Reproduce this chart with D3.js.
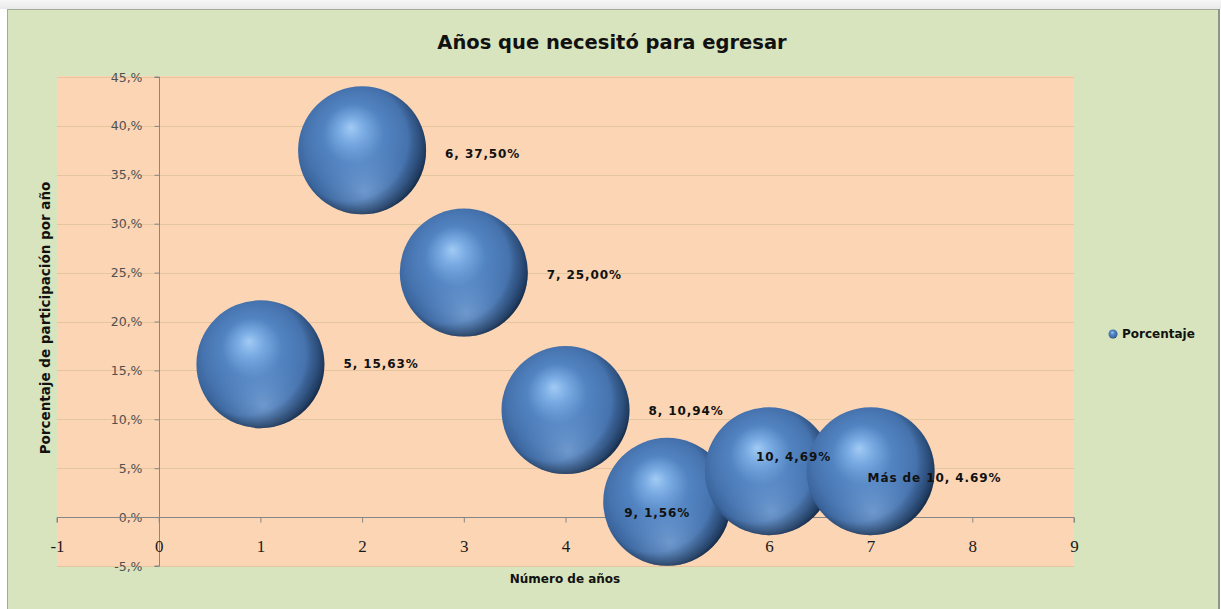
<!DOCTYPE html>
<html>
<head>
<meta charset="utf-8">
<script src="https://cdn.jsdelivr.net/npm/d3@7"></script>
<style>
html,body{margin:0;padding:0;background:#ffffff;}
svg{display:block;}
</style>
</head>
<body>
<svg id="chart" width="1221" height="609"></svg>
<script>
// ---- data ----
const categories = ["5", "6", "7", "8", "9", "10", "Más de 10"];
const xValues = [1, 2, 3, 4, 5, 6, 7];
const percentValues = [15.63, 37.50, 25.00, 10.94, 1.56, 4.69, 4.69];
const percentLabels = ["15,63%", "37,50%", "25,00%", "10,94%", "1,56%", "4,69%", "4.69%"];
const bubbleSizes = [1, 1, 1, 1, 1, 1, 1];
const xTicks = [-1, 0, 1, 2, 3, 4, 5, 6, 7, 8, 9];
const yTicks = [-5, 0, 5, 10, 15, 20, 25, 30, 35, 40, 45];
const yTickLabels = ["-5,%", "0,%", "5,%", "10,%", "15,%", "20,%", "25,%", "30,%", "35,%", "40,%", "45,%"];
const seriesName = "Porcentaje";
const titleText = "Años que necesitó para egresar";
const xTitle = "Número de años";
const yTitle = "Porcentaje de participación por año";

// ---- layout (styling only) ----
const labelShift = [[19, 0], [19, 3], [19, 2], [19, 1], [-107, 11], [-77, -14], [-67, 7]]; // px, relative to bubble right edge / centre
const plot = {left: 57, right: 1074, top: 77, bottom: 566};
const titleFont = "'Comic Sans MS','DejaVu Sans',sans-serif";

const svg = d3.select("#chart");
const defs = svg.append("defs");

// page + chart area
const bgGrad = defs.append("linearGradient").attr("id", "topShade").attr("x1", 0).attr("y1", 0).attr("x2", 0).attr("y2", 1);
bgGrad.append("stop").attr("offset", 0).attr("stop-color", "#f7f7f7");
bgGrad.append("stop").attr("offset", 1).attr("stop-color", "#e9e9e9");
svg.append("rect").attr("x", 0).attr("y", 0).attr("width", 1221).attr("height", 9).attr("fill", "url(#topShade)");
svg.append("rect").attr("x", 7.5).attr("y", 9.5).attr("width", 1211).attr("height", 610)
  .attr("fill", "#d8e4bd").attr("stroke", "#a3a99c").attr("stroke-width", 1);
svg.append("rect").attr("x", 1218).attr("y", 9).attr("width", 2).attr("height", 600).attr("fill", "#8d9689");

// scales
const x = d3.scaleLinear().domain([-1, 9]).range([plot.left, plot.right]);
const y = d3.scaleLinear().domain([-5, 45]).range([plot.bottom, plot.top]);
const r = d3.scaleSqrt().domain([0, d3.max(bubbleSizes)]).range([0, 64]);

// plot area
svg.append("rect").attr("x", plot.left).attr("y", plot.top - 1).attr("width", plot.right - plot.left)
  .attr("height", plot.bottom - plot.top + 1).attr("fill", "#fcd5b4");

// gridlines
svg.append("g").selectAll("line").data(yTicks).join("line")
  .attr("x1", plot.left).attr("x2", plot.right)
  .attr("y1", d => Math.round(y(d)) + 0.5).attr("y2", d => Math.round(y(d)) + 0.5)
  .attr("stroke", "#e3c69d").attr("stroke-width", 1);

// y axis at x = 0
const yAxis = d3.axisLeft(y).tickValues(yTicks).tickSize(5).tickPadding(12)
  .tickFormat((d, i) => yTickLabels[i]);
const gy = svg.append("g").attr("transform", `translate(${Math.round(x(0)) + 0.5},0)`).call(yAxis);
gy.select(".domain").attr("stroke", "#868686").attr("d", `M-5,${y(45)}H0V${y(-5)}H-5`);
gy.selectAll(".tick line").attr("stroke", "#868686");
gy.selectAll(".tick text").attr("fill", "#505050").style("font-family", "'DejaVu Sans',Verdana,sans-serif").style("font-size", "12.5px");

// x axis at y = 0
const xAxis = d3.axisBottom(x).tickValues(xTicks).tickSize(5).tickPadding(17).tickFormat(d => String(d));
const gx = svg.append("g").attr("transform", `translate(0,${Math.round(y(0)) + 0.5})`).call(xAxis);
gx.select(".domain").attr("stroke", "#868686").attr("d", `M${plot.left},5V0H${plot.right}V5`);
gx.selectAll(".tick line").attr("stroke", "#868686");
gx.selectAll(".tick text").attr("fill", "#1a1a1a")
  .style("font-family", "'Liberation Serif','Times New Roman',serif").style("font-size", "17px");

// bubble gradients
const g1 = defs.append("radialGradient").attr("id", "ball")
  .attr("cx", "0.47").attr("cy", "0.45").attr("r", "0.56").attr("fx", "0.41").attr("fy", "0.32");
[[0, "#a2cbf4"], [0.16, "#7cade4"], [0.42, "#5284c2"], [0.72, "#4673ae"], [0.87, "#3a649c"], [0.95, "#2c4f7c"], [1, "#1c3250"]]
  .forEach(([o, c]) => g1.append("stop").attr("offset", o).attr("stop-color", c));
const g2 = defs.append("radialGradient").attr("id", "reflect")
  .attr("cx", "0.52").attr("cy", "0.82").attr("r", "0.42");
[[0, "#8fb8e8", 0.55], [0.5, "#7aa6dc", 0.25], [1, "#5b8ccb", 0]]
  .forEach(([o, c, a]) => g2.append("stop").attr("offset", o).attr("stop-color", c).attr("stop-opacity", a));
const g3 = defs.append("radialGradient").attr("id", "rim")
  .attr("cx", "0.38").attr("cy", "0.42").attr("r", "0.66");
[[0, "#000", 0], [0.72, "#000", 0], [0.92, "#0a1a30", 0.35], [1, "#0a1a30", 0.55]]
  .forEach(([o, c, a]) => g3.append("stop").attr("offset", o).attr("stop-color", c).attr("stop-opacity", a));

const pts = xValues.map((xv, i) => ({x: xv, y: percentValues[i], s: bubbleSizes[i], i}));
const balls = svg.append("g").selectAll("g").data(pts).join("g")
  .attr("transform", d => `translate(${x(d.x)},${y(d.y)})`);
balls.append("circle").attr("r", d => r(d.s)).attr("fill", "url(#ball)");
balls.append("circle").attr("r", d => r(d.s)).attr("fill", "url(#reflect)");
balls.append("circle").attr("r", d => r(d.s)).attr("fill", "url(#rim)");

// data labels
const labelFont = "'Comic Sans MS','DejaVu Sans',sans-serif";
svg.append("g").selectAll("text").data(pts).join("text")
  .attr("x", d => x(d.x) + r(d.s) + labelShift[d.i][0])
  .attr("y", d => y(d.y) + labelShift[d.i][1])
  .attr("dy", "0.35em")
  .attr("fill", "#111")
  .style("font-family", labelFont).style("font-weight", "bold").style("font-size", "12px")
  .style("letter-spacing", "0.9px")
  .text(d => `${categories[d.i]}, ${percentLabels[d.i]}`);

// title
svg.append("text").attr("x", 612).attr("y", 42).attr("dy", "0.35em").attr("text-anchor", "middle")
  .style("font-family", titleFont).style("font-weight", "bold").style("font-size", "19.5px").attr("fill", "#111")
  .text(titleText);

// axis titles
svg.append("text").attr("x", 565).attr("y", 579).attr("dy", "0.35em").attr("text-anchor", "middle")
  .style("font-family", titleFont).style("font-weight", "bold").style("font-size", "12px").attr("fill", "#111")
  .text(xTitle);
svg.append("text").attr("transform", "translate(45,318) rotate(-90)").attr("dy", "0.35em").attr("text-anchor", "middle")
  .style("font-family", titleFont).style("font-weight", "bold").style("font-size", "13.5px").attr("fill", "#111")
  .text(yTitle);

// legend
const lg = svg.append("g").attr("transform", "translate(1113,334)");
lg.append("circle").attr("r", 4.5).attr("fill", "url(#ball)");
lg.append("text").attr("x", 9).attr("dy", "0.35em")
  .style("font-family", titleFont).style("font-weight", "bold").style("font-size", "12px").attr("fill", "#111")
  .text(seriesName);
</script>
</body>
</html>
